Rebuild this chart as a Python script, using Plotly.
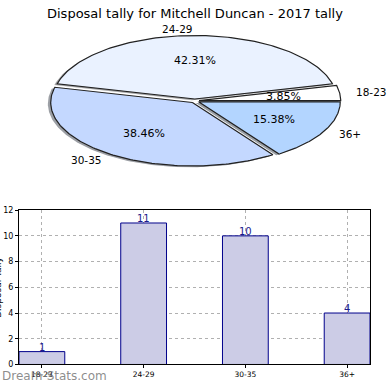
import numpy as np
import plotly.graph_objects as go

# ---- data ----
categories = ["18-23", "24-29", "30-35", "36+"]
tally = [1, 11, 10, 4]
pie_colors = ["#FFFFFF", "#EAF2FF", "#C4D8FF", "#B3D5FF"]
title_text = "Disposal tally for Mitchell Duncan - 2017 tally"
y_title = "Disposal Tally"
watermark = "Dream-Stats.com"
explode = 0.03

W = H = 390
fig = go.Figure()

# ---- pie (elliptical, drawn in stretched data space) ----
total = float(sum(tally))
fracs = np.array(tally) / total
starts = np.concatenate([[0.0], np.cumsum(fracs)[:-1]]) * 360.0
ends = np.cumsum(fracs) * 360.0


def hex_to_rgb(h):
    h = h.lstrip("#")
    return tuple(int(h[i:i + 2], 16) for i in (0, 2, 4))


wedges = []
for cat, s, e, col in zip(categories, starts, ends, pie_colors):
    mid = np.deg2rad((s + e) / 2)
    ox, oy = explode * np.cos(mid), explode * np.sin(mid)
    th = np.deg2rad(np.linspace(s, e, 120))
    xs = np.concatenate([[ox], ox + np.cos(th), [ox]])
    ys = np.concatenate([[oy], oy + np.sin(th), [oy]])
    wedges.append((cat, xs, ys, col, mid, ox, oy))

# shadows
for cat, xs, ys, col, mid, ox, oy in wedges:
    r, g, b = hex_to_rgb(col)
    fig.add_trace(go.Scatter(
        x=xs - 0.02, y=ys - 0.02, mode="lines", fill="toself",
        fillcolor=f"rgba({int(r*0.3)},{int(g*0.3)},{int(b*0.3)},0.5)",
        line=dict(width=0), hoverinfo="skip", showlegend=False,
        xaxis="x", yaxis="y"))
# wedges
for cat, xs, ys, col, mid, ox, oy in wedges:
    fig.add_trace(go.Scatter(
        x=xs, y=ys, mode="lines", fill="toself", fillcolor=col,
        line=dict(width=1.2, color="#222222"), hoverinfo="skip",
        showlegend=False, xaxis="x", yaxis="y"))

annotations = []
for (cat, xs, ys, col, mid, ox, oy), fr in zip(wedges, fracs):
    # percentage
    annotations.append(dict(
        x=ox + 0.6 * np.cos(mid), y=oy + 0.6 * np.sin(mid), xref="x", yref="y",
        text=f"{fr*100:.2f}%", showarrow=False,
        font=dict(family="DejaVu Sans", size=11, color="black"),
        xanchor="center", yanchor="middle"))
    # category label
    lx = ox + 1.1 * np.cos(mid)
    ly = oy + 1.1 * np.sin(mid)
    annotations.append(dict(
        x=lx, y=ly, xref="x", yref="y", text=cat, showarrow=False,
        font=dict(family="DejaVu Sans", size=10.5, color="black"),
        xanchor="left" if lx > 0.001 else "right", yanchor="middle"))

# ---- bar chart ----
xpos = list(range(len(categories)))
fig.add_trace(go.Bar(
    x=xpos, y=tally, width=0.45, marker=dict(color="#CCCCE6",
    line=dict(color="#00008B", width=1)), hoverinfo="skip",
    showlegend=False, xaxis="x2", yaxis="y2"))
for xp, v in zip(xpos, tally):
    annotations.append(dict(
        x=xp, y=v, xref="x2", yref="y2", text=str(v), showarrow=False,
        font=dict(family="DejaVu Sans", size=10, color="#1a1a8c"),
        xanchor="center", yanchor="bottom", yshift=-3))

# title, y-title, watermark
annotations.append(dict(
    x=195 / W, y=1 - 10 / H, xref="paper", yref="paper", text=title_text,
    showarrow=False, font=dict(family="DejaVu Sans", size=13, color="black"),
    xanchor="center", yanchor="middle"))
annotations.append(dict(
    x=-1.5 / W, y=1 - 290 / H, xref="paper", yref="paper", text=y_title,
    showarrow=False, textangle=-90,
    font=dict(family="DejaVu Sans", size=9, color="black"),
    xanchor="center", yanchor="middle"))
annotations.append(dict(
    x=0, y=1 - 381 / H, xref="paper", yref="paper", text=watermark,
    showarrow=False, font=dict(family="DejaVu Sans", size=12, color="rgba(120,120,120,0.85)"),
    xanchor="left", yanchor="middle"))

# pie axis ranges (pixel geometry)
cx, cy, rx, ry = 194.8, 99.2, 141.7, 65.0
x0 = -cx / rx
x1 = x0 + W / rx
ytop, ybot = 20, 180
y1 = (cy - ytop) / ry
y0 = y1 - (ybot - ytop) / ry

fig.update_layout(
    width=W, height=H, margin=dict(l=0, r=0, t=0, b=0),
    paper_bgcolor="white", plot_bgcolor="white",
    annotations=annotations,
    xaxis=dict(domain=[0, 1], range=[x0, x1], visible=False, fixedrange=True),
    yaxis=dict(domain=[1 - ybot / H, 1 - ytop / H], range=[y0, y1],
               visible=False, fixedrange=True),
    xaxis2=dict(domain=[19 / W, 370 / W], range=[-0.225, 3.225], anchor="y2",
                tickvals=xpos, ticktext=categories, showline=True, mirror=True,
                linecolor="black", linewidth=1, showgrid=True,
                gridcolor="#b0b0b0", griddash="dot", gridwidth=1,
                ticks="outside", ticklen=3, tickcolor="black",
                tickfont=dict(family="DejaVu Sans", size=7.5, color="black"),
                zeroline=False),
    yaxis2=dict(domain=[1 - 369 / H, 1 - 211 / H], range=[0, 12], dtick=2,
                anchor="x2", showline=True, mirror=True, linecolor="black",
                linewidth=1, showgrid=True, gridcolor="#b0b0b0",
                griddash="dot", gridwidth=1, ticks="outside", ticklen=3,
                tickcolor="black",
                tickfont=dict(family="DejaVu Sans", size=8, color="black"),
                zeroline=False),
)

fig.write_html("out.html", config={"displayModeBar": False},
               post_script="document.body.style.margin='0';document.body.style.overflow='hidden';")
